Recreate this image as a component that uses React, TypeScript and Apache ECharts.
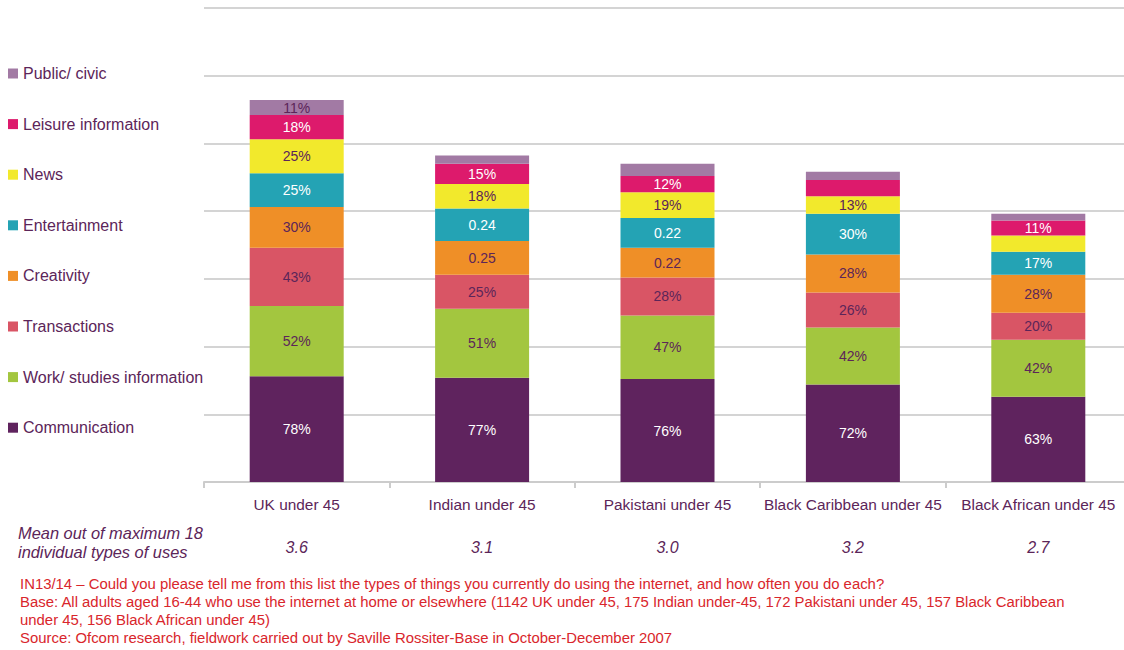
import React, { useEffect, useRef } from "react";
import * as echarts from "echarts";

const categories = ["UK under 45", "Indian under 45", "Pakistani under 45", "Black Caribbean under 45", "Black African under 45"];
const seriesNames = ["Communication", "Work/ studies information", "Transactions", "Creativity", "Entertainment", "News", "Leisure information", "Public/ civic"];
const communication = [78, 77, 76, 72, 63];
const workStudies = [52, 51, 47, 42, 42];
const transactions = [43, 25, 28, 26, 20];
const creativity = [30, 25, 22, 28, 28];
const entertainment = [25, 24, 22, 30, 17];
const news = [25, 18, 19, 13, 12];
const leisure = [18, 15, 12, 12, 11];
const publicCivic = [11, 6, 9, 6, 5];

const communicationLabels = ["78%", "77%", "76%", "72%", "63%"];
const workLabels = ["52%", "51%", "47%", "42%", "42%"];
const transactionsLabels = ["43%", "25%", "28%", "26%", "20%"];
const creativityLabels = ["30%", "0.25", "0.22", "28%", "28%"];
const entertainmentLabels = ["25%", "0.24", "0.22", "30%", "17%"];
const newsLabels = ["25%", "18%", "19%", "13%", ""];
const leisureLabels = ["18%", "15%", "12%", "", "11%"];
const publicLabels = ["11%", "", "", "", ""];

const means = ["3.6", "3.1", "3.0", "3.2", "2.7"];
const meanTitle = "Mean out of maximum 18\nindividual types of uses";
const footnote = [
  "IN13/14 – Could you please tell me from this list the types of things you currently do using the internet, and how often you do each?",
  "Base: All adults aged 16-44 who use the internet at home or elsewhere (1142 UK under 45, 175 Indian under-45, 172 Pakistani under 45, 157 Black Caribbean",
  "under 45, 156 Black African under 45)",
  "Source: Ofcom research, fieldwork carried out by Saville Rossiter-Base in October-December 2007",
];

const FONT = "'Liberation Sans', Arial, sans-serif";
const PURPLE = "#5c2559";
const colors = ["#5f235e", "#a3c63f", "#d95565", "#ef8f27", "#24a3b4", "#f2e92c", "#dd1a6c", "#a27aa4"];
const labelColors = ["#ffffff", PURPLE, PURPLE, PURPLE, "#ffffff", PURPLE, "#ffffff", PURPLE];

export default function App() {
  const ref = useRef<HTMLDivElement>(null);
  useEffect(() => {
    if (!ref.current) return;
    const chart = echarts.init(ref.current, null, { renderer: "svg" });
    const values = [communication, workStudies, transactions, creativity, entertainment, news, leisure, publicCivic];
    const labels = [communicationLabels, workLabels, transactionsLabels, creativityLabels, entertainmentLabels, newsLabels, leisureLabels, publicLabels];
    chart.setOption({
      animation: false,
      backgroundColor: "#ffffff",
      textStyle: { fontFamily: FONT },
      legend: {
        orient: "vertical",
        left: 3,
        top: 60,
        itemWidth: 10,
        itemHeight: 10,
        itemGap: 33.6,
        icon: "rect",
        data: seriesNames.slice().reverse(),
        textStyle: { fontFamily: FONT, fontSize: 16, color: PURPLE, lineHeight: 17 },
      },
      grid: { left: 204, top: 8, right: 0, height: 474 },
      xAxis: [
        {
          type: "category",
          data: categories,
          axisLine: { lineStyle: { color: "#cccccc", width: 2 } },
          axisTick: { show: true, length: 6, lineStyle: { color: "#cccccc", width: 2 } },
          axisLabel: { color: PURPLE, fontSize: 15.4, fontFamily: FONT, margin: 15, interval: 0, hideOverlap: false },
        },
        {
          type: "category",
          data: means,
          position: "bottom",
          offset: 42,
          axisLine: { show: false },
          axisTick: { show: false },
          axisLabel: { color: PURPLE, fontSize: 16, fontStyle: "italic", fontFamily: FONT, margin: 15, interval: 0 },
        },
      ],
      yAxis: {
        type: "value",
        min: 0,
        max: 350,
        interval: 50,
        axisLabel: { show: false },
        axisLine: { show: false },
        axisTick: { show: false },
        splitLine: { lineStyle: { color: "#d4d4d4", width: 2 } },
      },
      series: values.map((v, i) => ({
        name: seriesNames[i],
        type: "bar",
        stack: "total",
        barWidth: 94,
        itemStyle: { color: colors[i] },
        data: v,
        label: {
          show: true,
          position: "inside",
          color: labelColors[i],
          fontSize: 14,
          fontFamily: FONT,
          formatter: (p: any) => labels[i][p.dataIndex],
        },
      })),
      graphic: [
        {
          type: "text",
          left: 18,
          top: 523,
          style: { text: meanTitle, fontSize: 16.4, fontStyle: "italic", fontFamily: FONT, fill: PURPLE, lineHeight: 19 },
        },
        {
          type: "text",
          left: 20,
          top: 575,
          style: { text: footnote.join("\n"), fontSize: 14.9, fontFamily: FONT, fill: "#d9262c", lineHeight: 18 },
        },
      ],
    });
    return () => chart.dispose();
  }, []);
  return (
    <div style={{ position: "absolute", left: 0, top: 0, width: 1124, height: 650, overflow: "hidden" }}>
      <div ref={ref} style={{ width: 1131, height: 650 }} />
    </div>
  );
}
